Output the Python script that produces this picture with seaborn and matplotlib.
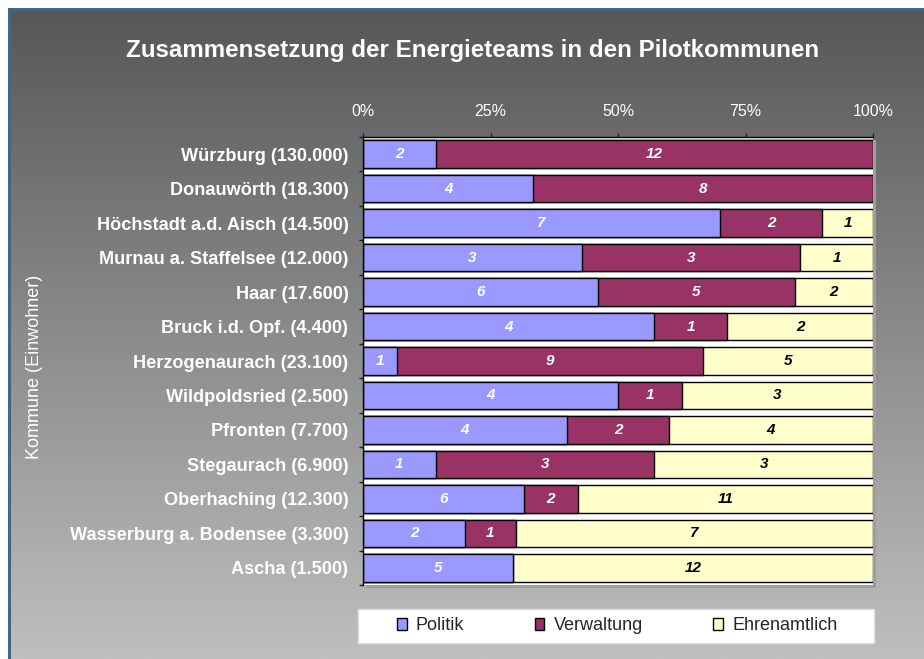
import numpy as np
import pandas as pd
import matplotlib
matplotlib.use("Agg")
import matplotlib.pyplot as plt
from matplotlib.patches import Rectangle, Patch
from matplotlib.colors import LinearSegmentedColormap
import seaborn as sns

# Data
kommunen = [
    "Würzburg (130.000)", "Donauwörth (18.300)", "Höchstadt a.d. Aisch (14.500)",
    "Murnau a. Staffelsee (12.000)", "Haar (17.600)", "Bruck i.d. Opf. (4.400)",
    "Herzogenaurach (23.100)", "Wildpoldsried (2.500)", "Pfronten (7.700)",
    "Stegaurach (6.900)", "Oberhaching (12.300)", "Wasserburg a. Bodensee (3.300)",
    "Ascha (1.500)",
]
politik = [2, 4, 7, 3, 6, 4, 1, 4, 4, 1, 6, 2, 5]
verwaltung = [12, 8, 2, 3, 5, 1, 9, 1, 2, 3, 2, 1, 0]
ehrenamtlich = [0, 0, 1, 1, 2, 2, 5, 3, 4, 3, 11, 7, 12]

serien = ["Politik", "Verwaltung", "Ehrenamtlich"]
farben = ["#9999FF", "#993366", "#FFFFCC"]
text_farben = ["white", "white", "black"]
x_ticks = [0, 25, 50, 75, 100]
titel = "Zusammensetzung der Energieteams in den Pilotkommunen"

df = pd.DataFrame({"Kommune": kommunen, "Politik": politik,
                   "Verwaltung": verwaltung, "Ehrenamtlich": ehrenamtlich})
total = df[serien].sum(axis=1)
pct = df[serien].div(total, axis=0) * 100
cum = pct.cumsum(axis=1)
df["c1"] = cum["Politik"]
df["c2"] = cum["Verwaltung"]
df["c3"] = cum["Ehrenamtlich"]

sns.set_theme(style="white")
plt.rcParams["font.family"] = ["Liberation Sans", "DejaVu Sans"]

W, H = 924, 659
fig = plt.figure(figsize=(W / 100, H / 100), dpi=100)
fig.patch.set_facecolor("white")

# gradient background with border
bg = fig.add_axes([0, 0, 1, 1], zorder=-10)
bg.set_xlim(0, 1)
bg.set_ylim(0, 1)
bg.axis("off")
cmap = LinearSegmentedColormap.from_list("bg", ["#575757", "#bfbfbf"])
grad = np.linspace(0, 1, 256).reshape(-1, 1)
top = 1 - 9 / H
bg.imshow(grad, aspect="auto", cmap=cmap, extent=[9 / W, 1.0, 0, top], zorder=0)
bg.add_patch(Rectangle((9 / W, -0.05), 1.1, top + 0.05, facecolor="none",
                       edgecolor="#3d6986", linewidth=2.2, zorder=2))

# plot area
x0, x1, y0, y1 = 363, 873, 137, 585
rect = [x0 / W, 1 - y1 / H, (x1 - x0) / W, (y1 - y0) / H]
bg.add_patch(Rectangle((rect[0] + 3 / W, rect[1] - 3 / H), rect[2], rect[3],
                       facecolor="#9e9e9e", edgecolor="none", zorder=1))
# legend box
bg.add_patch(Rectangle((358 / W, 1 - 643 / H), 516 / W, 34 / H,
                       facecolor="white", edgecolor="#e0e0e0", linewidth=1, zorder=1))

ax = fig.add_axes(rect)
ax.set_facecolor("white")

for col, farbe in zip(["c3", "c2", "c1"], farben[::-1]):
    sns.barplot(data=df, y="Kommune", x=col, color=farbe, saturation=1,
                edgecolor="black", linewidth=1, width=0.8, orient="h", ax=ax)

# segment labels
for i in range(len(df)):
    links = 0
    for s, tf in zip(serien, text_farben):
        w = pct.loc[i, s]
        if df.loc[i, s] > 0:
            ax.text(links + w / 2, i, str(df.loc[i, s]), ha="center", va="center",
                    color=tf, fontsize=11, fontweight="bold", fontstyle="italic")
        links += w

ax.set_xlim(0, 100)
ax.set_ylim(len(df) - 0.5, -0.5)
ax.set_xlabel("")
ax.set_ylabel("")

ax.xaxis.tick_top()
ax.set_xticks(x_ticks)
ax.set_xticklabels([f"{t}%" for t in x_ticks])
ax.tick_params(axis="x", top=True, bottom=False, direction="out", length=3,
               width=1, color="#222222", labelcolor="white", labelsize=11.5, pad=10)

ax.set_yticks(np.arange(-0.5, len(df), 1), minor=True)
ax.tick_params(axis="y", which="major", left=False, length=0, pad=10.5,
               labelcolor="white", labelsize=13.1)
ax.tick_params(axis="y", which="minor", left=True, direction="out", length=3,
               width=1, color="#222222")
for lbl in ax.get_yticklabels():
    lbl.set_fontweight("bold")

for side in ["right", "bottom"]:
    ax.spines[side].set_visible(False)
for side in ["top", "left"]:
    ax.spines[side].set_color("black")
    ax.spines[side].set_linewidth(1)

fig.text(473 / W, 1 - 50 / H, titel, ha="center", va="center", color="white",
         fontsize=17.4, fontweight="bold")
fig.text(35 / W, 1 - 367 / H, "Kommune (Einwohner)", rotation=90, ha="center",
         va="center", color="white", fontsize=13)

handles = [Patch(facecolor=f, edgecolor="black", linewidth=1) for f in farben]
leg = fig.legend(handles, serien, loc="center",
                 bbox_to_anchor=(617 / W, 1 - 626 / H),
                 ncol=3, frameon=False, fontsize=13,
                 handlelength=0.55, handleheight=0.6, handletextpad=0.5,
                 columnspacing=3.9, borderpad=0, borderaxespad=0)

fig.savefig("out.png", dpi=100)
